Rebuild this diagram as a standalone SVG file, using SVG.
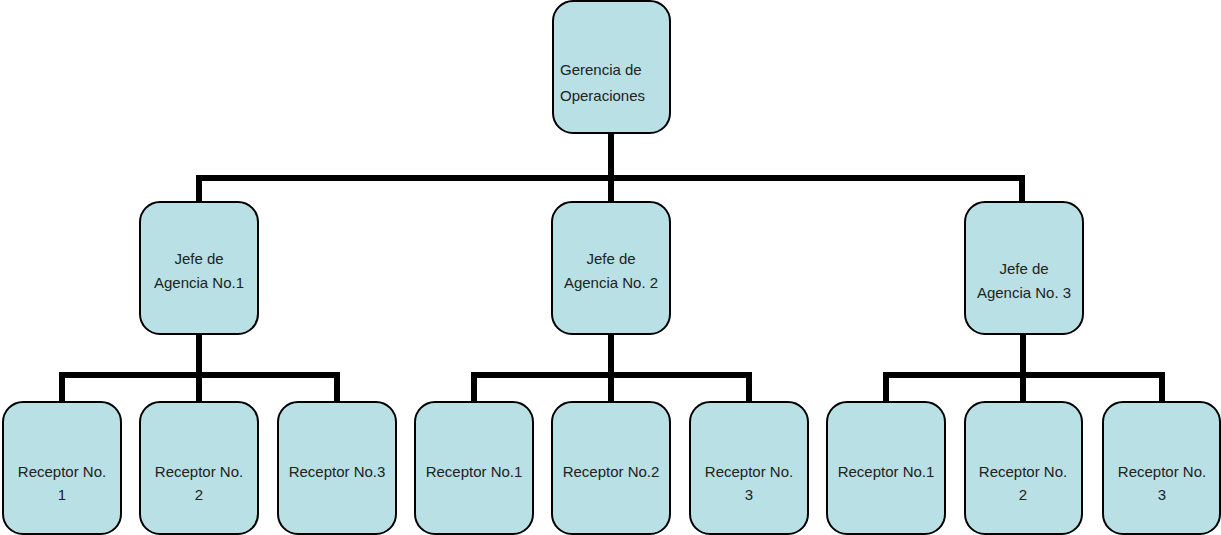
<svg xmlns="http://www.w3.org/2000/svg" width="1221" height="535" viewBox="0 0 1221 535">
<style>
.n rect{fill:#b9e0e4;stroke:#000;stroke-width:2}
.n text{font-family:"Liberation Sans",Arial,sans-serif;font-size:15px;fill:#222;text-anchor:middle}
.c path{fill:none;stroke:#000;stroke-width:6}
</style>
<rect width="1221" height="535" fill="#fff"/>
<g class="c">
<path d="M611 133V202M199 178H1022M199 175V202M1022 175V202"/>
<path d="M199 334V402M62 375H337M62 372V402M337 372V402"/>
<path d="M611 334V402M474 375H749M474 372V402M749 372V402"/>
<path d="M1023 334V402M886 375H1162M886 372V402M1162 372V402"/>
</g>
<g class="n" id="gerencia"><rect x="553" y="1" width="117" height="132" rx="20"/><text x="560" y="75" style="text-anchor:start">Gerencia de</text><text x="560" y="101" style="text-anchor:start">Operaciones</text></g>
<g class="n" id="jefe1"><rect x="140" y="202" width="118" height="132" rx="20"/><text x="199" y="264">Jefe de</text><text x="199" y="288">Agencia No.1</text></g>
<g class="n" id="jefe2"><rect x="552" y="202" width="118" height="132" rx="20"/><text x="611" y="264">Jefe de</text><text x="611" y="288">Agencia No. 2</text></g>
<g class="n" id="jefe3"><rect x="965" y="202" width="118" height="132" rx="20"/><text x="1024" y="274">Jefe de</text><text x="1024" y="298">Agencia No. 3</text></g>
<g class="n" id="r11"><rect x="3" y="402" width="118" height="132" rx="20"/><text x="62" y="477">Receptor No.</text><text x="62" y="500">1</text></g>
<g class="n" id="r12"><rect x="140" y="402" width="118" height="132" rx="20"/><text x="199" y="477">Receptor No.</text><text x="199" y="500">2</text></g>
<g class="n" id="r13"><rect x="278" y="402" width="118" height="132" rx="20"/><text x="337" y="477">Receptor No.3</text></g>
<g class="n" id="r21"><rect x="415" y="402" width="118" height="132" rx="20"/><text x="474" y="477">Receptor No.1</text></g>
<g class="n" id="r22"><rect x="552" y="402" width="118" height="132" rx="20"/><text x="611" y="477">Receptor No.2</text></g>
<g class="n" id="r23"><rect x="690" y="402" width="118" height="132" rx="20"/><text x="749" y="477">Receptor No.</text><text x="749" y="500">3</text></g>
<g class="n" id="r31"><rect x="827" y="402" width="118" height="132" rx="20"/><text x="886" y="477">Receptor No.1</text></g>
<g class="n" id="r32"><rect x="965" y="402" width="117" height="132" rx="20"/><text x="1023" y="477">Receptor No.</text><text x="1023" y="500">2</text></g>
<g class="n" id="r33"><rect x="1103" y="402" width="117" height="132" rx="20"/><text x="1162" y="477">Receptor No.</text><text x="1162" y="500">3</text></g>
</svg>
